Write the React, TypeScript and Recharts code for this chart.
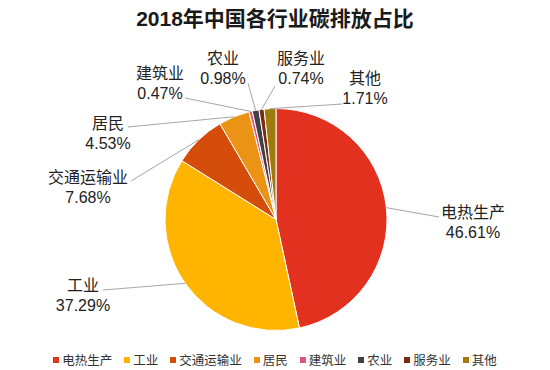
import { PieChart, Pie, Cell, Legend } from 'recharts';

const sectors = ['电热生产', '工业', '交通运输业', '居民', '建筑业', '农业', '服务业', '其他'];
const shares = [46.61, 37.29, 7.68, 4.53, 0.47, 0.98, 0.74, 1.71];
const colors = ['#E2321F', '#FFB400', '#D54D0A', '#EA9314', '#E0557E', '#404048', '#7B2A0E', '#A07A0C'];

const data = sectors.map((name, i) => ({ name, value: shares[i] }));

// where each leader line ends and its label sits, relative to the pie centre
const labelSpots = [
  { ex: 163, ey: -2.5, tx: 197, ty: -7.5 },
  { ex: -173, ey: 70.5, tx: -193, ty: 65.5 },
  { ex: -145, ey: -38.5, tx: -188, ty: -42.5 },
  { ex: -148, ey: -92.5, tx: -168, ty: -96.5 },
  { ex: -91, ey: -121.5, tx: -116, ty: -146.5 },
  { ex: -28, ey: -136.5, tx: -53, ty: -161.5 },
  { ex: -1, ey: -133.5, tx: 25, ty: -161.5 },
  { ex: 66, ey: -115.5, tx: 89, ty: -141.5 },
];

const FONT = '"Liberation Sans", Arial, "Noto Sans CJK SC", sans-serif';
const RAD = Math.PI / 180;

function renderLabel(props: any) {
  const { cx, cy, midAngle, outerRadius, index, name, value } = props;
  const spot = labelSpots[index];
  const sx = cx + outerRadius * Math.cos(-midAngle * RAD);
  const sy = cy + outerRadius * Math.sin(-midAngle * RAD);
  const ex = cx + spot.ex;
  const ey = cy + spot.ey;
  const tx = cx + spot.tx;
  const ty = cy + spot.ty;
  return (
    <g key={'lbl-' + index}>
      <line x1={sx} y1={sy} x2={ex} y2={ey} stroke="#A6A6A6" strokeWidth={1} />
      <text x={tx} y={ty} textAnchor="middle" dominantBaseline="central" fill="#222" fontSize={16} fontFamily={FONT}>
        {name}
      </text>
      <text x={tx} y={ty + 20} textAnchor="middle" dominantBaseline="central" fill="#222" fontSize={16} fontFamily={FONT}>
        {Number(value).toFixed(2)}%
      </text>
    </g>
  );
}

function renderLegend() {
  return (
    <div style={{ display: 'flex', justifyContent: 'center', alignItems: 'center', fontFamily: FONT, fontSize: 12.5, color: '#333' }}>
      {sectors.map((s, i) => (
        <div key={s} style={{ display: 'flex', alignItems: 'center', marginRight: i < sectors.length - 1 ? 12 : 0 }}>
          <span style={{ display: 'inline-block', width: 6, height: 6, background: colors[i], marginRight: 3 }} />
          <span>{s}</span>
        </div>
      ))}
    </div>
  );
}

export default function App() {
  return (
    <div style={{ position: 'absolute', left: 0, top: 0, width: 550, height: 370, background: '#fff' }}>
      <div
        style={{
          position: 'absolute',
          top: 6,
          left: 0,
          width: 550,
          textAlign: 'center',
          fontFamily: FONT,
          fontWeight: 'bold',
          fontSize: 21,
          color: '#1a1a1a',
          lineHeight: '26px',
        }}
      >
        2018年中国各行业碳排放占比
      </div>
      <PieChart width={550} height={370} margin={{ top: 0, right: 0, bottom: 0, left: 0 }}>
        <Pie
          data={data}
          dataKey="value"
          nameKey="name"
          cx={276}
          cy={219.5}
          outerRadius={111}
          startAngle={90}
          endAngle={-270}
          stroke="#fff"
          strokeWidth={1}
          label={renderLabel}
          labelLine={false}
          isAnimationActive={false}
        >
          {data.map((d, i) => (
            <Cell key={d.name} fill={colors[i]} />
          ))}
        </Pie>
        <Legend content={renderLegend} wrapperStyle={{ position: 'absolute', top: 350, left: 0, width: 550 }} />
      </PieChart>
    </div>
  );
}
